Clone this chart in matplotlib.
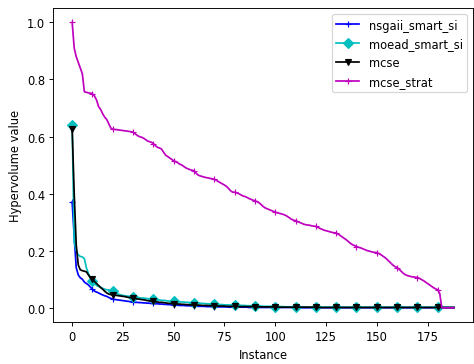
import numpy as np
import matplotlib
matplotlib.use("Agg")
import matplotlib.pyplot as plt

# hypervolume per instance
nsgaii_smart_si = [
    0.370, 0.250, 0.140, 0.115, 0.105, 0.100, 0.090, 0.085, 0.080, 0.072,
    0.065, 0.058, 0.055, 0.052, 0.048, 0.045, 0.042, 0.040, 0.036, 0.033,
    0.030, 0.029, 0.028, 0.027, 0.026, 0.025, 0.024, 0.023, 0.022, 0.021,
    0.020, 0.019, 0.019, 0.018, 0.018, 0.017, 0.017, 0.016, 0.016, 0.015,
    0.015, 0.014, 0.014, 0.013, 0.013, 0.012, 0.012, 0.011, 0.011, 0.010,
    0.010, 0.009, 0.009, 0.008, 0.008, 0.008, 0.007, 0.007, 0.007, 0.006,
    0.006, 0.006, 0.005, 0.005, 0.005, 0.005, 0.004, 0.004, 0.004, 0.004,
    0.003, 0.003, 0.003, 0.003, 0.003, 0.003, 0.003, 0.002, 0.002, 0.002,
    0.002, 0.002, 0.002, 0.002, 0.002, 0.002, 0.002, 0.001, 0.001, 0.001,
    0.001, 0.001, 0.001, 0.001, 0.001, 0.001, 0.001, 0.001, 0.001, 0.001,
    0.001, 0.001, 0.001, 0.001, 0.001, 0.001, 0.001, 0.001, 0.001, 0.001,
    0.000, 0.000, 0.000, 0.000, 0.000, 0.000, 0.000, 0.000, 0.000, 0.000,
    0.000, 0.000, 0.000, 0.000, 0.000, 0.000, 0.000, 0.000, 0.000, 0.000,
    0.000, 0.000, 0.000, 0.000, 0.000, 0.000, 0.000, 0.000, 0.000, 0.000,
    0.000, 0.000, 0.000, 0.000, 0.000, 0.000, 0.000, 0.000, 0.000, 0.000,
    0.000, 0.000, 0.000, 0.000, 0.000, 0.000, 0.000, 0.000, 0.000, 0.000,
    0.000, 0.000, 0.000, 0.000, 0.000, 0.000, 0.000, 0.000, 0.000, 0.000,
    0.000, 0.000, 0.000, 0.000, 0.000, 0.000, 0.000, 0.000, 0.000, 0.000,
    0.000, 0.000, 0.000, 0.000, 0.000, 0.000, 0.000, 0.000, 0.000,
]

moead_smart_si = [
    0.640, 0.230, 0.200, 0.185, 0.180, 0.178, 0.172, 0.140, 0.120, 0.105,
    0.095, 0.085, 0.078, 0.075, 0.072, 0.068, 0.065, 0.063, 0.062, 0.061,
    0.060, 0.055, 0.050, 0.047, 0.045, 0.043, 0.042, 0.041, 0.040, 0.039,
    0.038, 0.037, 0.036, 0.035, 0.034, 0.034, 0.033, 0.032, 0.031, 0.031,
    0.030, 0.029, 0.028, 0.027, 0.026, 0.026, 0.025, 0.024, 0.023, 0.023,
    0.022, 0.022, 0.021, 0.021, 0.020, 0.020, 0.019, 0.019, 0.018, 0.018,
    0.017, 0.017, 0.016, 0.016, 0.015, 0.015, 0.014, 0.014, 0.013, 0.013,
    0.012, 0.012, 0.011, 0.011, 0.011, 0.010, 0.010, 0.010, 0.009, 0.009,
    0.009, 0.009, 0.008, 0.008, 0.008, 0.008, 0.007, 0.007, 0.007, 0.007,
    0.006, 0.006, 0.006, 0.006, 0.005, 0.005, 0.005, 0.005, 0.005, 0.004,
    0.004, 0.004, 0.004, 0.004, 0.004, 0.003, 0.003, 0.003, 0.003, 0.003,
    0.003, 0.003, 0.003, 0.003, 0.003, 0.003, 0.002, 0.002, 0.002, 0.002,
    0.002, 0.002, 0.002, 0.002, 0.002, 0.002, 0.002, 0.002, 0.002, 0.002,
    0.002, 0.002, 0.002, 0.002, 0.002, 0.002, 0.002, 0.002, 0.002, 0.002,
    0.002, 0.002, 0.002, 0.002, 0.002, 0.002, 0.002, 0.002, 0.002, 0.002,
    0.002, 0.002, 0.002, 0.002, 0.002, 0.002, 0.002, 0.002, 0.002, 0.002,
    0.002, 0.002, 0.002, 0.002, 0.002, 0.002, 0.002, 0.002, 0.002, 0.002,
    0.002, 0.002, 0.002, 0.002, 0.002, 0.002, 0.002, 0.002, 0.002, 0.002,
    0.002, 0.002, 0.002, 0.002, 0.002, 0.002, 0.002, 0.002, 0.002,
]

mcse = [
    0.625, 0.400, 0.220, 0.150, 0.133, 0.130, 0.128, 0.126, 0.115, 0.105,
    0.100, 0.092, 0.085, 0.078, 0.071, 0.065, 0.058, 0.052, 0.048, 0.046,
    0.045, 0.044, 0.043, 0.042, 0.041, 0.040, 0.039, 0.037, 0.036, 0.035,
    0.034, 0.033, 0.031, 0.030, 0.029, 0.028, 0.027, 0.025, 0.024, 0.023,
    0.022, 0.021, 0.020, 0.019, 0.019, 0.018, 0.017, 0.016, 0.015, 0.015,
    0.014, 0.014, 0.013, 0.013, 0.012, 0.012, 0.011, 0.011, 0.010, 0.010,
    0.010, 0.009, 0.009, 0.009, 0.008, 0.008, 0.008, 0.008, 0.007, 0.007,
    0.007, 0.007, 0.006, 0.006, 0.006, 0.006, 0.005, 0.005, 0.005, 0.005,
    0.005, 0.005, 0.004, 0.004, 0.004, 0.004, 0.004, 0.004, 0.004, 0.004,
    0.004, 0.003, 0.003, 0.003, 0.003, 0.003, 0.003, 0.003, 0.003, 0.003,
    0.003, 0.003, 0.002, 0.002, 0.002, 0.002, 0.002, 0.002, 0.002, 0.002,
    0.002, 0.002, 0.002, 0.002, 0.002, 0.002, 0.002, 0.002, 0.002, 0.002,
    0.001, 0.001, 0.001, 0.001, 0.001, 0.001, 0.001, 0.001, 0.001, 0.001,
    0.001, 0.001, 0.001, 0.001, 0.001, 0.001, 0.001, 0.001, 0.001, 0.001,
    0.001, 0.001, 0.001, 0.001, 0.001, 0.001, 0.001, 0.001, 0.001, 0.001,
    0.001, 0.001, 0.001, 0.001, 0.001, 0.001, 0.001, 0.001, 0.001, 0.001,
    0.001, 0.001, 0.001, 0.001, 0.001, 0.001, 0.001, 0.001, 0.001, 0.001,
    0.001, 0.001, 0.001, 0.001, 0.001, 0.001, 0.001, 0.001, 0.001, 0.001,
    0.001, 0.001, 0.001, 0.001, 0.001, 0.001, 0.001, 0.001, 0.001,
]

mcse_strat = [
    1.000, 0.910, 0.880, 0.860, 0.840, 0.820, 0.757, 0.755, 0.753, 0.752,
    0.750, 0.742, 0.728, 0.705, 0.695, 0.680, 0.668, 0.660, 0.645, 0.630,
    0.625, 0.625, 0.624, 0.623, 0.622, 0.621, 0.620, 0.619, 0.618, 0.617,
    0.615, 0.610, 0.604, 0.600, 0.598, 0.595, 0.590, 0.585, 0.582, 0.580,
    0.575, 0.568, 0.562, 0.560, 0.556, 0.545, 0.535, 0.530, 0.525, 0.520,
    0.515, 0.512, 0.508, 0.503, 0.500, 0.495, 0.490, 0.487, 0.484, 0.482,
    0.480, 0.472, 0.465, 0.462, 0.460, 0.458, 0.456, 0.455, 0.453, 0.452,
    0.450, 0.447, 0.442, 0.438, 0.434, 0.430, 0.425, 0.418, 0.410, 0.405,
    0.405, 0.403, 0.400, 0.396, 0.392, 0.390, 0.387, 0.383, 0.380, 0.377,
    0.375, 0.372, 0.368, 0.362, 0.355, 0.350, 0.347, 0.344, 0.341, 0.338,
    0.335, 0.333, 0.331, 0.329, 0.327, 0.324, 0.320, 0.315, 0.310, 0.307,
    0.305, 0.302, 0.299, 0.296, 0.293, 0.291, 0.290, 0.289, 0.287, 0.286,
    0.285, 0.282, 0.278, 0.275, 0.272, 0.270, 0.268, 0.266, 0.264, 0.263,
    0.262, 0.258, 0.253, 0.248, 0.243, 0.238, 0.232, 0.226, 0.221, 0.218,
    0.214, 0.212, 0.210, 0.207, 0.204, 0.201, 0.199, 0.197, 0.195, 0.194,
    0.193, 0.190, 0.186, 0.181, 0.176, 0.170, 0.163, 0.156, 0.149, 0.144,
    0.141, 0.135, 0.128, 0.121, 0.116, 0.113, 0.111, 0.109, 0.108, 0.107,
    0.106, 0.103, 0.099, 0.095, 0.090, 0.085, 0.080, 0.075, 0.070, 0.066,
    0.063, 0.050, 0.000, 0.000, 0.000, 0.000, 0.000, 0.000, 0.000,
]

instances = np.arange(len(mcse_strat))

# drawn a bit bigger and at lower dpi so text/lines scale like the original
fig = plt.figure(figsize=(474 / 83, 365 / 83), dpi=83)
ax = fig.add_axes([0.112, 0.115, 0.886, 0.86])

ax.plot(instances, nsgaii_smart_si, 'b-', marker='+', markevery=10, label='nsgaii_smart_si')
ax.plot(instances, moead_smart_si, 'c-', marker='D', markevery=10, label='moead_smart_si')
ax.plot(instances, mcse, 'k-', marker='v', markevery=10, label='mcse')
ax.plot(instances, mcse_strat, 'm-', marker='+', markevery=10, label='mcse_strat')

ax.set_xlabel('Instance')
ax.set_ylabel('Hypervolume value')
ax.legend(loc='upper right')

fig.savefig('out.png', dpi=83)
